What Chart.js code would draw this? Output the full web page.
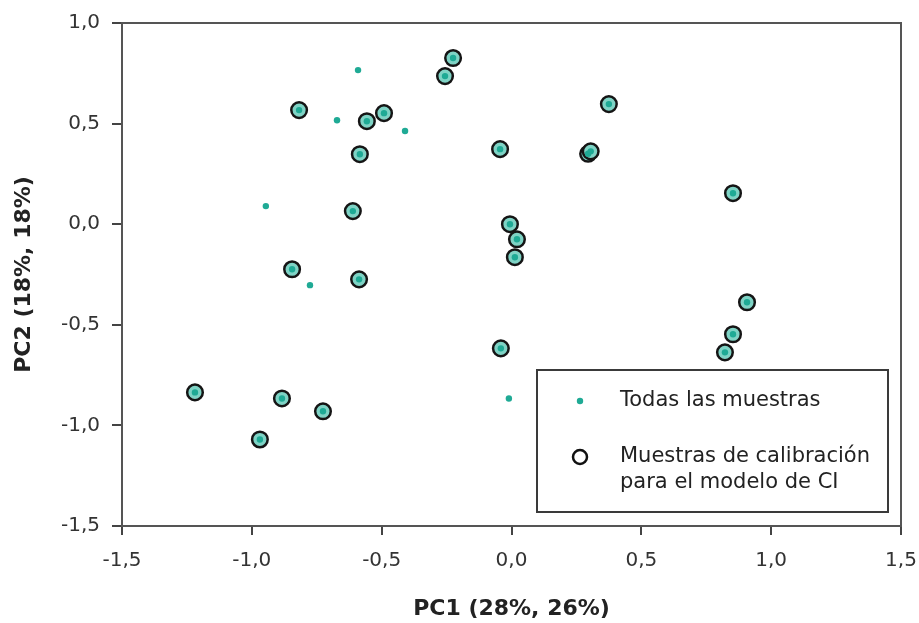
<!DOCTYPE html>
<html>
<head>
<meta charset="utf-8">
<script src="https://cdn.jsdelivr.net/npm/chart.js@4/dist/chart.umd.min.js"></script>
<style>
  html, body { margin: 0; padding: 0; background: #ffffff; }
  #wrap { width: 919px; height: 623px; position: relative; }
</style>
</head>
<body>
<div id="wrap"><canvas id="c" width="919" height="623"></canvas></div>
<script>
// ---- Data ----
// Samples that are only in "Todas las muestras" (not calibration)
const otherPC1 = [-0.591, -0.672, -0.410, -0.946, -0.776, -0.010];
const otherPC2 = [ 0.766,  0.517,  0.463,  0.090, -0.303, -0.866];

// Calibration samples (circled)
const calPC1 = [-0.818, -0.557, -0.491, -0.584, -0.611, -0.845, -0.587, -0.256, -0.225,
                 0.375, -0.044,  0.295,  0.305,  0.853, -0.006,  0.021,  0.013,  0.907,
                -0.041,  0.853,  0.822, -1.219, -0.884, -0.726, -0.969];
const calPC2 = [ 0.567,  0.512,  0.552,  0.348,  0.065, -0.224, -0.274,  0.736,  0.826,
                 0.597,  0.373,  0.350,  0.362,  0.154,  0.000, -0.075, -0.164, -0.388,
                -0.617, -0.547, -0.637, -0.836, -0.866, -0.930, -1.070];

const xTicks = [-1.5, -1.0, -0.5, 0.0, 0.5, 1.0, 1.5];
const yTicks = [-1.5, -1.0, -0.5, 0.0, 0.5, 1.0];

const labelAll = 'Todas las muestras';
const labelCal = ['Muestras de calibración', 'para el modelo de CI'];
const xTitle = 'PC1 (28%, 26%)';
const yTitle = 'PC2 (18%, 18%)';

// ---- Build point tables ----
const calPoints = calPC1.map((x, i) => ({ x: x, y: calPC2[i] }));
const allPoints = otherPC1.map((x, i) => ({ x: x, y: otherPC2[i] })).concat(calPoints);

const TEAL = '#1faa95';
const FONT = "'DejaVu Sans', Verdana, sans-serif";

const fmt = v => (Math.round(v * 10) / 10).toFixed(1).replace('.', ',');

const framePlugin = {
  id: 'frame',
  afterDatasetsDraw(chart) {
    const { ctx, chartArea: a } = chart;
    ctx.save();
    ctx.strokeStyle = '#555555';
    ctx.lineWidth = 2;
    ctx.strokeRect(a.left, a.top, a.right - a.left, a.bottom - a.top);
    ctx.restore();
  },
  afterDraw(chart) {
    const { ctx, chartArea: a } = chart;
    // Legend box inside plot area (lower right)
    const bx = a.left + (537 - 122), by = a.top + (370 - 23);
    const bw = 351, bh = 142;
    ctx.save();
    ctx.fillStyle = '#ffffff';
    ctx.fillRect(bx, by, bw, bh);
    ctx.strokeStyle = '#3a3a3a';
    ctx.lineWidth = 2;
    ctx.strokeRect(bx, by, bw, bh);
    // marker 1: teal dot
    const mx = bx + 43;
    ctx.fillStyle = TEAL;
    ctx.beginPath();
    ctx.arc(mx, by + 31, 3.2, 0, Math.PI * 2);
    ctx.fill();
    // marker 2: ring
    ctx.strokeStyle = '#111111';
    ctx.lineWidth = 2.5;
    ctx.beginPath();
    ctx.arc(mx, by + 87, 7, 0, Math.PI * 2);
    ctx.stroke();
    // texts
    ctx.fillStyle = '#222222';
    ctx.font = '21px ' + FONT;
    ctx.textBaseline = 'middle';
    ctx.textAlign = 'left';
    ctx.fillText(labelAll, bx + 83, by + 31);
    ctx.fillText(labelCal[0], bx + 83, by + 87);
    ctx.fillText(labelCal[1], bx + 83, by + 113);
    ctx.restore();
  }
};

new Chart(document.getElementById('c'), {
  type: 'scatter',
  data: {
    datasets: [
      {
        label: labelAll,
        data: allPoints,
        pointStyle: 'circle',
        pointRadius: 3.2,
        pointHoverRadius: 3.2,
        backgroundColor: TEAL,
        borderWidth: 0,
        order: 1
      },
      {
        label: labelCal.join(' '),
        data: calPoints,
        pointStyle: 'circle',
        pointRadius: 7.8,
        pointHoverRadius: 7.8,
        backgroundColor: '#7fd3c5',
        borderColor: '#151515',
        borderWidth: 2.5,
        order: 2
      }
    ]
  },
  options: {
    responsive: false,
    animation: false,
    layout: { padding: { top: 23, right: 18, bottom: 0, left: 0 } },
    plugins: {
      legend: { display: false },
      tooltip: { enabled: false }
    },
    scales: {
      x: {
        type: 'linear',
        min: -1.5, max: 1.5,
        afterBuildTicks: s => { s.ticks = xTicks.map(v => ({ value: v })); },
        afterFit: s => { s.height = 97; s.paddingLeft = 0; s.paddingRight = 0; },
        ticks: {
          callback: v => fmt(v),
          color: '#333333',
          font: { family: FONT, size: 20 },
          padding: 14,
          maxRotation: 0
        },
        grid: { drawOnChartArea: false, drawTicks: true, tickLength: 9, color: '#444444', lineWidth: 2 },
        border: { display: true, color: '#444444', width: 2 },
        title: {
          display: true,
          text: xTitle,
          color: '#222222',
          font: { family: FONT, size: 22, weight: 'bold' },
          padding: { top: 0, bottom: 1 }
        }
      },
      y: {
        type: 'linear',
        min: -1.5, max: 1.0,
        afterBuildTicks: s => { s.ticks = yTicks.map(v => ({ value: v })); },
        afterFit: s => { s.width = 122; s.paddingTop = 0; s.paddingBottom = 0; },
        ticks: {
          callback: v => fmt(v),
          color: '#333333',
          font: { family: FONT, size: 20 },
          padding: 12
        },
        grid: { drawOnChartArea: false, drawTicks: true, tickLength: 10, color: '#444444', lineWidth: 2 },
        border: { display: true, color: '#444444', width: 2 },
        title: {
          display: true,
          text: yTitle,
          color: '#222222',
          font: { family: FONT, size: 22, weight: 'bold' },
          padding: { top: 11, bottom: 0 }
        }
      }
    }
  },
  plugins: [framePlugin]
});
</script>
</body>
</html>
